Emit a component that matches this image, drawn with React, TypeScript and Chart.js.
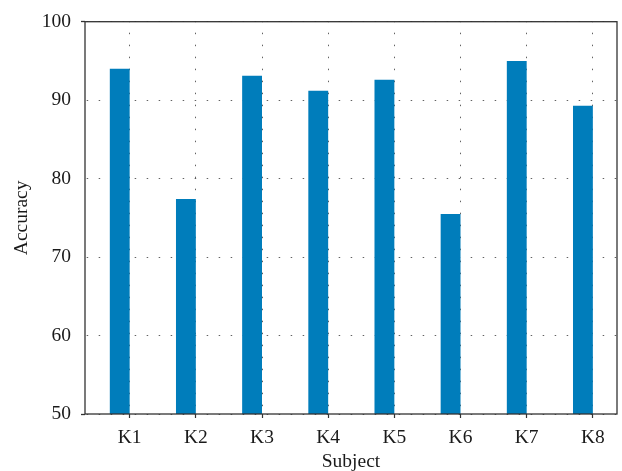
import { useEffect, useRef } from 'react';
import { Chart, registerables } from 'chart.js';

Chart.register(...registerables);

const subjects = ['K1', 'K2', 'K3', 'K4', 'K5', 'K6', 'K7', 'K8'];
const accuracy = [94.0, 77.4, 93.1, 91.2, 92.6, 75.5, 95.0, 89.3];
const yMin = 50;
const yMax = 100;
const yStep = 10;

const FONT = "'Liberation Serif', 'Times New Roman', serif";
const TEXT = '#1a1a1a';
const AXIS = '#333333';
const GRID = 'rgba(70,70,70,0.85)';

export default function App() {
  const ref = useRef<HTMLCanvasElement>(null);

  useEffect(() => {
    document.body.style.margin = '0';
    const framePlugin = {
      id: 'frame',
      afterDraw(chart: any) {
        const { ctx, chartArea: a } = chart;
        ctx.save();
        ctx.strokeStyle = AXIS;
        ctx.lineWidth = 1.3;
        ctx.strokeRect(a.left, a.top, a.right - a.left, a.bottom - a.top);
        ctx.restore();
      },
    };

    const chart = new Chart(ref.current as HTMLCanvasElement, {
      type: 'bar',
      data: {
        datasets: [
          {
            label: 'Accuracy',
            data: subjects.map((_, i) => ({ x: i + 1, y: accuracy[i] })),
            backgroundColor: '#007DBB',
            barPercentage: 1,
            categoryPercentage: 0.6,
          },
          {
            label: 'empty',
            data: subjects.map((_, i) => ({ x: i + 1, y: null })),
            backgroundColor: 'transparent',
            barPercentage: 1,
            categoryPercentage: 0.6,
          },
        ],
      } as any,
      plugins: [framePlugin],
      options: {
        animation: false,
        responsive: true,
        maintainAspectRatio: false,
        layout: { padding: { top: 19, right: 5, left: 0, bottom: 0 } },
        plugins: { legend: { display: false }, tooltip: { enabled: false } },
        scales: {
          x: {
            type: 'linear',
            offset: false,
            min: 0.325,
            max: 8.365,
            afterBuildTicks: (scale: any) => {
              scale.ticks = subjects.map((_, i) => ({ value: i + 1 }));
            },
            afterFit: (scale: any) => {
              scale.height = 57;
            },
            ticks: {
              stepSize: 1,
              includeBounds: false,
              autoSkip: false,
              maxRotation: 0,
              callback: (v: any) => subjects[Math.round(Number(v)) - 1] ?? '',
              font: { family: FONT, size: 19.5 },
              color: TEXT,
              padding: 8,
            },
            grid: {
              offset: false,
              color: GRID,
              lineWidth: 1,
              tickLength: 4,
              tickColor: AXIS,
              tickWidth: 1.2,
              tickBorderDash: [],
            },
            border: { display: false, dash: [1.5, 10.5], dashOffset: 1 },
            title: {
              display: true,
              text: 'Subject',
              font: { family: FONT, size: 19.5 },
              color: TEXT,
              padding: { top: 0, bottom: -3 },
            },
          },
          y: {
            min: yMin,
            max: yMax,
            afterFit: (scale: any) => {
              scale.width = 85;
            },
            ticks: {
              stepSize: yStep,
              font: { family: FONT, size: 19.5 },
              color: TEXT,
              padding: 10,
            },
            grid: {
              color: GRID,
              lineWidth: 1,
              tickLength: 4,
              tickColor: (c: any) =>
                c.tick && (c.tick.value === yMin || c.tick.value === yMax) ? AXIS : 'transparent',
              tickWidth: 1.3,
              tickBorderDash: [],
            },
            border: { display: false, dash: [1.5, 10.5], dashOffset: 10.3 },
            title: {
              display: true,
              text: 'Accuracy',
              font: { family: FONT, size: 19.5 },
              color: TEXT,
              padding: { top: 10, bottom: 0 },
            },
          },
        },
      } as any,
    });
    return () => chart.destroy();
  }, []);

  return (
    <div style={{ position: 'fixed', left: 0, top: 0, width: 622, height: 471, background: '#fff' }}>
      <canvas ref={ref} />
    </div>
  );
}
